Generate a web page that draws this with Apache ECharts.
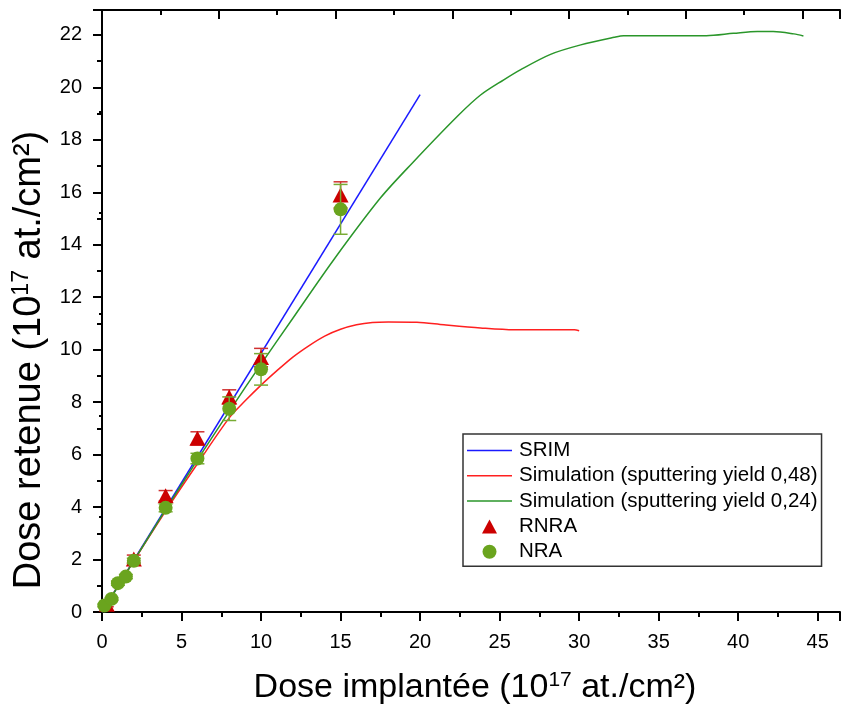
<!DOCTYPE html>
<html>
<head>
<meta charset="utf-8">
<script src="https://cdn.jsdelivr.net/npm/echarts@6/dist/echarts.min.js"></script>
<style>html,body{margin:0;padding:0;background:#fff}#c{width:841px;height:710px}</style>
</head>
<body>
<div id="c"></div>
<script>
// ---- data ----
const srimX = [0, 20];
const srimY = [0, 19.72];

const sim48X = [0, 2, 4, 6, 8, 9, 10, 11, 12, 13, 14, 15, 16, 17, 18, 19.8, 21.5, 23.8, 25.9, 29.7, 30];
const sim48Y = [0, 1.95, 3.85, 5.65, 7.4, 8.05, 8.65, 9.2, 9.72, 10.15, 10.52, 10.78, 10.95, 11.04, 11.06, 11.05, 10.95, 10.83, 10.76, 10.76, 10.72];

const sim24X = [0, 2, 4, 6, 8, 10, 12, 14.57, 17.5, 19.5, 22.33, 23.8, 25.26, 26.3, 28.2, 30.1, 32.2, 32.8, 38, 39.7, 41.2, 42.2, 43.5, 44.1];
const sim24Y = [0, 1.95, 3.9, 5.8, 7.65, 9.45, 11.2, 13.43, 15.78, 17.11, 18.89, 19.71, 20.29, 20.67, 21.26, 21.62, 21.91, 21.97, 21.97, 22.06, 22.13, 22.13, 22.04, 21.96];

const rnraX = [0.3, 2, 4, 6, 8, 10, 15];
const rnraY = [0.3, 2.02, 4.43, 6.62, 8.2, 9.7, 15.9];
const rnraErr = [0.1, 0.15, 0.2, 0.25, 0.27, 0.35, 0.5];

const nraX = [0.15, 0.6, 1, 1.5, 2, 4, 6, 8, 10, 15];
const nraY = [0.25, 0.5, 1.1, 1.35, 1.95, 3.97, 5.85, 7.75, 9.25, 15.35];
const nraErr = [0.05, 0.05, 0.08, 0.08, 0.1, 0.15, 0.2, 0.45, 0.6, 0.95];

const xTitle = 'Dose implantée (10{sup|17} at./cm²)';
const yTitle = 'Dose retenue (10{sup|17} at./cm²)';
const lineNames = ['SRIM', 'Simulation (sputtering yield 0,48)', 'Simulation (sputtering yield 0,24)'];
const pointNames = ['RNRA', 'NRA'];

// ---- build ----
const zip = (xs, ys) => xs.map((x, i) => [x, ys[i]]);
const errData = (xs, ys, es) => xs.map((x, i) => [x, ys[i] - es[i], ys[i] + es[i]]);
const FONT = 'Liberation Sans, Arial, sans-serif';
const RED = '#cc0000', GREEN = '#6aa41e';
const LINE_ICON = 'path://M0,0 L45,0 L45,1.5 L0,1.5 Z';
const TRI_ICON = 'path://M7.5,0 L15,14 L0,14 Z';
const DOT_ICON = 'path://M6,0 A6,6 0 1 1 5.99,0 Z';

function errorBar(color) {
  return function (params, api) {
    const x = api.value(0);
    const lo = api.coord([x, api.value(1)]);
    const hi = api.coord([x, api.value(2)]);
    const w = 7;
    const st = { stroke: color, lineWidth: 1.5 };
    return {
      type: 'group',
      children: [
        { type: 'line', shape: { x1: lo[0], y1: lo[1], x2: hi[0], y2: hi[1] }, style: st },
        { type: 'line', shape: { x1: lo[0] - w, y1: lo[1], x2: lo[0] + w, y2: lo[1] }, style: st },
        { type: 'line', shape: { x1: hi[0] - w, y1: hi[1], x2: hi[0] + w, y2: hi[1] }, style: st }
      ]
    };
  };
}

const supRichX = { sup: { fontSize: 21, fontFamily: FONT, color: '#000', padding: [0, 0, 15, 0] } };
const supRichY = { sup: { fontSize: 23, fontFamily: FONT, color: '#000', padding: [0, 0, 17, 0] } };
const axisLine = { show: true, lineStyle: { color: '#000', width: 2 } };

const chart = echarts.init(document.getElementById('c'), null, { renderer: 'canvas' });
chart.setOption({
  animation: false,
  backgroundColor: '#fff',
  grid: { left: 102, right: 1, top: 10, bottom: 97.5, containLabel: false },
  legend: {
    orient: 'vertical',
    left: 463, top: 434,
    padding: [6, 4, 4, 4],
    itemWidth: 45, itemHeight: 14, itemGap: 4.3,
    borderColor: '#333', borderWidth: 1.5,
    textStyle: { fontSize: 20.5, fontFamily: FONT, color: '#000', padding: [0, 0, 0, 2] },
    data: lineNames.map(n => ({ name: n, icon: LINE_ICON }))
      .concat([{ name: pointNames[0], icon: TRI_ICON }, { name: pointNames[1], icon: DOT_ICON }])
  },
  xAxis: [{
    type: 'value', position: 'bottom', min: 0, max: 46.4, interval: 5,
    axisLine: axisLine,
    axisTick: { show: true, inside: false, length: 9, lineStyle: { color: '#000', width: 2 } },
    minorTick: { show: true, splitNumber: 2, length: 5, lineStyle: { color: '#000', width: 2 } },
    splitLine: { show: false },
    axisLabel: { fontSize: 20, fontFamily: FONT, color: '#000', margin: 20, showMaxLabel: false },
    name: xTitle, nameLocation: 'middle', nameGap: 58,
    nameTextStyle: { fontSize: 34, fontFamily: FONT, color: '#000', rich: supRichX, padding: [0, 0, 0, 8] }
  }, {
    type: 'value', position: 'top', min: 0, max: 6.32, interval: 1,
    axisLine: axisLine,
    axisTick: { show: true, inside: true, length: 9, lineStyle: { color: '#000', width: 2 } },
    minorTick: { show: true, splitNumber: 2, length: 5, lineStyle: { color: '#000', width: 2 } },
    splitLine: { show: false },
    axisLabel: { show: false }
  }],
  yAxis: [{
    type: 'value', position: 'left', min: 0, max: 22.95, interval: 2,
    axisLine: axisLine,
    axisTick: { show: true, inside: false, length: 9, lineStyle: { color: '#000', width: 2 } },
    minorTick: { show: true, splitNumber: 2, length: 5, lineStyle: { color: '#000', width: 2 } },
    splitLine: { show: false },
    axisLabel: { fontSize: 20, fontFamily: FONT, color: '#000', margin: 20, showMaxLabel: false },
    name: yTitle, nameLocation: 'middle', nameGap: 52,
    nameTextStyle: { fontSize: 38, fontFamily: FONT, color: '#000', rich: supRichY, padding: [0, 98, 0, 0] }
  }, {
    type: 'value', position: 'right', inverse: true, min: 0, max: 5.936, interval: 1,
    axisLine: { show: false },
    axisTick: { show: true, inside: true, length: 3, lineStyle: { color: '#000', width: 2 } },
    splitLine: { show: false },
    axisLabel: { show: false }
  }],
  series: [
    { name: lineNames[0], type: 'line', data: zip(srimX, srimY), symbol: 'none', z: 2,
      lineStyle: { color: '#1a1aff', width: 1.5 }, itemStyle: { color: '#1a1aff' } },
    { name: lineNames[1], type: 'line', data: zip(sim48X, sim48Y), symbol: 'none', smooth: 0.3, z: 2,
      lineStyle: { color: '#ff2020', width: 1.5 }, itemStyle: { color: '#ff2020' } },
    { name: lineNames[2], type: 'line', data: zip(sim24X, sim24Y), symbol: 'none', smooth: 0.3, z: 2,
      lineStyle: { color: '#2a962a', width: 1.5 }, itemStyle: { color: '#2a962a' } },
    { name: 'RNRA-err', type: 'custom', data: errData(rnraX, rnraY, rnraErr), renderItem: errorBar('#d03030'), z: 3 },
    { name: pointNames[0], type: 'scatter', data: zip(rnraX, rnraY), symbol: 'triangle', symbolSize: [16, 15], z: 4,
      itemStyle: { color: RED, opacity: 1 } },
    { name: 'NRA-err', type: 'custom', data: errData(nraX, nraY, nraErr), renderItem: errorBar('#78ab34'), z: 5 },
    { name: pointNames[1], type: 'scatter', data: zip(nraX, nraY), symbol: 'circle', symbolSize: 14, z: 6,
      itemStyle: { color: GREEN, opacity: 1 } }
  ]
});
</script>
</body>
</html>
